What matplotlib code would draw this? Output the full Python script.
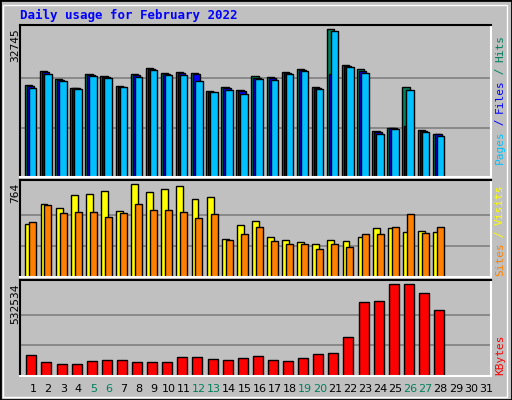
import numpy as np
import matplotlib
matplotlib.use("Agg")
from matplotlib import pyplot as plt
from matplotlib.patches import Rectangle

days = np.arange(1, 32)
weekend = [5, 6, 12, 13, 19, 20, 26, 27]

hits = [84.3, 71, 79, 87.3, 74, 76, 86, 74, 68, 73, 72, 73, 91, 87, 90, 76, 77, 71.7, 69, 87,
        29, 65, 69, 130, 127, 87, 129, 133]
files = [85.3, 72, 80, 87.7, 74.7, 77, 86.7, 75, 68.3, 73.7, 72.7, 73.3, 91.3, 88, 91, 77.3, 78,
         72.7, 70, 88, 74, 65.7, 70.3, 131, 127.3, 125, 130, 133.3]
pages = [88, 74, 81, 89, 76, 78, 87, 77, 70, 75, 75, 81, 92, 90, 94, 79, 80, 74, 71, 89,
         31, 66.3, 73, 133, 128, 90, 131.3, 135]
visits = [148, 88, 100, 61, 58, 49, 109, 28, 52, 43, 34, 73, 67, 190, 151, 139, 184, 193, 199,
          205, 193, 196, 184, 160, 160, 169, 166, 169]
sites = [142, 91, 115, 112, 112, 127, 115, 88, 106, 106, 112, 130, 118, 193, 175, 157, 196, 205,
         205, 220, 205, 214, 175, 175, 157, 118, 172, 157]
kbytes = [538, 559, 565, 565, 556, 553, 553, 559, 559, 559, 544, 544, 550, 553, 547, 541, 553,
          556, 547, 535, 532, 484, 382, 379, 328, 328, 355, 406]

hits = (176 - np.array(hits)) / 147 * 32745
files = (176 - np.array(files)) / 147 * 32745
pages = (176 - np.array(pages)) / 147 * 32745
visits = (304 - np.array(visits)) / 276 * 764
sites = (304 - np.array(sites)) / 276 * 764
kbytes = (601 - np.array(kbytes)) / 273 * 532534

BG = "#c0c0c0"
W, H = 512, 400
fig = plt.figure(figsize=(5.12, 4.0), dpi=100, facecolor=BG)
fig.patches.append(Rectangle((0, 0), 1, 1, transform=fig.transFigure, fill=False,
                             edgecolor="black", linewidth=2))
fig.patches.append(Rectangle((3 / W, 3 / H), (W - 8) / W, (H - 8) / H, transform=fig.transFigure,
                             fill=False, edgecolor="white", linewidth=1))

x0, x1 = 20, 491
xlim = (1 + (x0 - 33) / 15.1, 1 + (x1 - 33) / 15.1)
n = len(hits)
d = days[:n]


def panel(top, bottom, ymax):
    ax = fig.add_axes([x0 / W, 1 - bottom / H, (x1 - x0) / W, (bottom - top) / H])
    ax.set_facecolor(BG)
    ax.set_xlim(*xlim)
    ax.set_ylim(0, ymax * (bottom - top) / (bottom - top - 4))
    for y in (ymax / 3, 2 * ymax / 3):
        ax.axhline(y, color="#808080", linewidth=1.2, zorder=0)
    ax.set_xticks([])
    ax.set_yticks([])
    ax.spines["top"].set_color("black")
    ax.spines["left"].set_color("black")
    ax.spines["bottom"].set_color("white")
    ax.spines["right"].set_color("white")
    for s in ax.spines.values():
        s.set_linewidth(1.5)
    fig.text(15 / W, 1 - (top + 3) / H, f"{ymax:.0f}", rotation=90,
             ha="center", va="top", fontsize=8, family="DejaVu Sans Mono")
    return ax


bkw = dict(edgecolor="black", linewidth=1, align="edge")

ax1 = panel(25, 177, 32745)
ax1.bar(d - 0.53, hits, 0.48, color="#00805c", **bkw)
ax1.bar(d - 0.40, files, 0.48, color="#0000ff", **bkw)
ax1.bar(d - 0.27, pages, 0.50, color="#00c0ff", **bkw)

ax2 = panel(180, 277, 764)
ax2.bar(d - 0.50, visits, 0.46, color="#ffff00", **bkw)
ax2.bar(d - 0.24, sites, 0.46, color="#ff8000", **bkw)

ax3 = panel(280, 376, 532534)
ax3.bar(d - 0.44, kbytes, 0.66, color="#ff0000", **bkw)

for day in days:
    xp = (33 + (day - 1) * 15.1) / W
    fig.text(xp, 1 - 389 / H, str(day), ha="center", va="center", fontsize=8,
             color="#00805c" if day in weekend else "black")

fig.text(20 / W, 1 - 15 / H, "Daily usage for February 2022", fontsize=9, fontweight="bold",
         color="#0000ff", family="DejaVu Sans Mono", va="center")


def side_label(parts, ybottom):
    y = ybottom
    for txt, col in parts:
        fig.text(500 / W, y / H, txt, rotation=90, ha="center", va="bottom", fontsize=8,
                 color=col, family="DejaVu Sans Mono")
        y += len(txt) * 6.4


side_label([("Pages", "#00c0ff"), (" / ", "#0000ff"), ("Files", "#0000ff"),
            (" / ", "#00805c"), ("Hits", "#00805c")], 400 - 164)
side_label([("Sites", "#ff8000"), (" / ", "#ffff00"), ("Visits", "#ffff00")], 400 - 276)
side_label([("KBytes", "#ff0000")], 400 - 375)

fig.savefig("out.png", dpi=100, facecolor=BG)
